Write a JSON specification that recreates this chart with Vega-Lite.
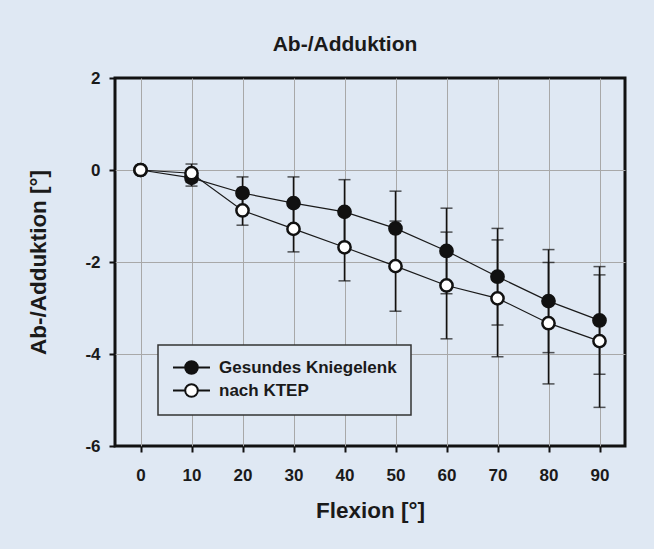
{
  "$schema": "https://vega.github.io/schema/vega-lite/v6.json",
  "autosize": {"type": "none"},
  "width": 510,
  "height": 368,
  "padding": {"left": 115, "top": 78, "right": 29, "bottom": 103},
  "background": "#dfe8f3",
  "title": {
    "text": "Ab-/Adduktion",
    "font": "Liberation Sans",
    "fontSize": 21,
    "fontWeight": "bold",
    "color": "#1a1a1a",
    "anchor": "middle",
    "offset": 14,
    "dx": -25
  },
  "data": {
    "values": [
      {"flexion": 0, "series": "Gesundes Kniegelenk", "mean": 0, "lo": 0, "hi": 0},
      {"flexion": 10, "series": "Gesundes Kniegelenk", "mean": -0.17, "lo": -0.35, "hi": 0.01},
      {"flexion": 20, "series": "Gesundes Kniegelenk", "mean": -0.5, "lo": -0.85, "hi": -0.15},
      {"flexion": 30, "series": "Gesundes Kniegelenk", "mean": -0.72, "lo": -1.29, "hi": -0.15},
      {"flexion": 40, "series": "Gesundes Kniegelenk", "mean": -0.91, "lo": -1.61, "hi": -0.21},
      {"flexion": 50, "series": "Gesundes Kniegelenk", "mean": -1.27, "lo": -2.08, "hi": -0.46},
      {"flexion": 60, "series": "Gesundes Kniegelenk", "mean": -1.76, "lo": -2.69, "hi": -0.83},
      {"flexion": 70, "series": "Gesundes Kniegelenk", "mean": -2.32, "lo": -3.37, "hi": -1.27},
      {"flexion": 80, "series": "Gesundes Kniegelenk", "mean": -2.85, "lo": -3.97, "hi": -1.73},
      {"flexion": 90, "series": "Gesundes Kniegelenk", "mean": -3.27, "lo": -4.44, "hi": -2.1},
      {"flexion": 0, "series": "nach KTEP", "mean": 0, "lo": 0, "hi": 0},
      {"flexion": 10, "series": "nach KTEP", "mean": -0.07, "lo": -0.27, "hi": 0.13},
      {"flexion": 20, "series": "nach KTEP", "mean": -0.88, "lo": -1.2, "hi": -0.56},
      {"flexion": 30, "series": "nach KTEP", "mean": -1.28, "lo": -1.78, "hi": -0.78},
      {"flexion": 40, "series": "nach KTEP", "mean": -1.68, "lo": -2.41, "hi": -0.95},
      {"flexion": 50, "series": "nach KTEP", "mean": -2.09, "lo": -3.07, "hi": -1.11},
      {"flexion": 60, "series": "nach KTEP", "mean": -2.51, "lo": -3.67, "hi": -1.35},
      {"flexion": 70, "series": "nach KTEP", "mean": -2.79, "lo": -4.06, "hi": -1.52},
      {"flexion": 80, "series": "nach KTEP", "mean": -3.33, "lo": -4.65, "hi": -2.01},
      {"flexion": 90, "series": "nach KTEP", "mean": -3.72, "lo": -5.16, "hi": -2.28}
    ]
  },
  "encoding": {
    "x": {
      "field": "flexion",
      "type": "quantitative",
      "scale": {"domain": [-5, 95], "nice": false, "zero": false},
      "axis": {
        "title": "Flexion [°]",
        "values": [0, 10, 20, 30, 40, 50, 60, 70, 80, 90],
        "labelPadding": 15,
        "titlePadding": 16
      }
    }
  },
  "layer": [
    {
      "mark": {"type": "rule", "color": "#111", "strokeWidth": 1.5},
      "encoding": {
        "y": {
          "field": "lo",
          "type": "quantitative",
          "scale": {"domain": [-6, 2], "nice": false},
          "axis": {
            "title": "Ab-/Adduktion [°]",
            "values": [-6, -4, -2, 0, 2],
            "labelExpr": "'' + datum.value",
            "labelPadding": 9,
            "titlePadding": 34,
            "gridColor": {"condition": {"test": "datum.value == 2 || datum.value == -6", "value": "transparent"}, "value": "#a8a8a8"}
          }
        },
        "y2": {"field": "hi"}
      }
    },
    {
      "mark": {"type": "tick", "orient": "horizontal", "color": "#111", "size": 12, "thickness": 1.5},
      "encoding": {"y": {"field": "lo", "type": "quantitative"}}
    },
    {
      "mark": {"type": "tick", "orient": "horizontal", "color": "#111", "size": 12, "thickness": 1.5},
      "encoding": {"y": {"field": "hi", "type": "quantitative"}}
    },
    {
      "mark": {"type": "line", "color": "#1a1a1a", "strokeWidth": 1.2},
      "encoding": {
        "y": {"field": "mean", "type": "quantitative"},
        "detail": {"field": "series", "type": "nominal"}
      }
    },
    {
      "mark": {"type": "point", "filled": true, "shape": "circle", "size": 150, "stroke": "#111", "strokeWidth": 2.5, "opacity": 1},
      "encoding": {
        "y": {"field": "mean", "type": "quantitative"},
        "fill": {
          "field": "series",
          "type": "nominal",
          "scale": {"domain": ["Gesundes Kniegelenk", "nach KTEP"], "range": ["#111111", "#ffffff"]},
          "legend": {
            "title": null,
            "orient": "none",
            "legendX": 43,
            "legendY": 267,
            "padding": 14,
            "fillColor": "#dfe8f3",
            "strokeColor": "#333333",
            "rowPadding": 2,
            "labelFont": "Liberation Sans",
            "labelFontSize": 17,
            "labelFontWeight": "bold",
            "labelColor": "#1a1a1a",
            "labelLimit": 400,
            "labelOffset": 19,
            "symbolOffset": 11,
            "symbolType": "M-2.64,0H-0.9M0.9,0H2.64M-0.9,0A0.9,0.9 0 1,0 0.9,0A0.9,0.9 0 1,0 -0.9,0Z",
            "symbolSize": 196,
            "symbolStrokeWidth": 2,
            "symbolStrokeColor": "#111",
            "symbolOpacity": 1,
            "encode": {
              "legend": {"update": {"strokeWidth": {"value": 1.5}}},
              "symbols": {"update": {"stroke": {"value": "#111"}, "strokeWidth": {"value": 2}}}
            }
          }
        }
      }
    }
  ],
  "config": {
    "font": "Liberation Sans",
    "view": {"stroke": "#111", "strokeWidth": 3},
    "axis": {
      "domain": false,
      "grid": true,
      "gridColor": "#a8a8a8",
      "gridWidth": 1,
      "tickColor": "#111",
      "tickWidth": 2,
      "tickSize": 6,
      "labelFont": "Liberation Sans",
      "labelFontSize": 17,
      "labelFontWeight": "bold",
      "labelColor": "#1a1a1a",
      "titleFont": "Liberation Sans",
      "titleFontSize": 22.5,
      "titleFontWeight": "bold",
      "titleColor": "#1a1a1a"
    }
  }
}
